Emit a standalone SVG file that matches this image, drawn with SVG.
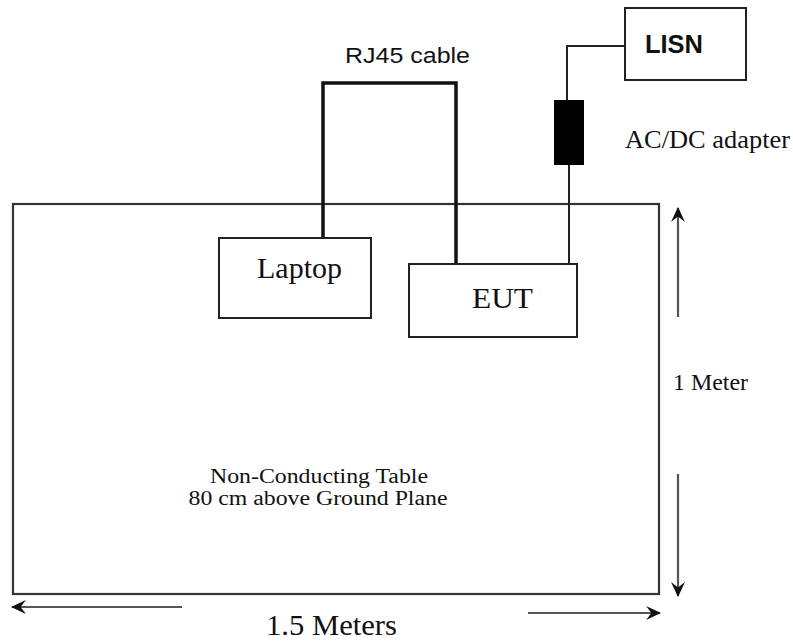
<svg xmlns="http://www.w3.org/2000/svg" width="793" height="644" viewBox="0 0 793 644">
<style>
.box{fill:#fff;stroke:#222;stroke-width:2}
.table{fill:none;stroke:#333;stroke-width:2.2}
.serif{font-family:"Liberation Serif","Times New Roman",serif;fill:#111}
.sans{font-family:"Liberation Sans",Arial,sans-serif;fill:#111}
.thick{fill:none;stroke:#111;stroke-width:3.5}
.thin{fill:none;stroke:#222;stroke-width:2}
.dim{fill:none;stroke:#555;stroke-width:2.2}
</style>
<defs>
<marker id="ah" viewBox="0 0 14 14" refX="13" refY="7" markerWidth="15" markerHeight="15" markerUnits="userSpaceOnUse" orient="auto">
<path d="M0,0.5 L14,7 L0,13.5 L5,7 z" fill="#111"/>
</marker>
</defs>
<rect width="793" height="644" fill="#fff"/>
<g id="table">
<rect class="table" x="13" y="204" width="646" height="390"/>
<text class="serif" x="319" y="483" font-size="20" text-anchor="middle" textLength="218" lengthAdjust="spacingAndGlyphs">Non-Conducting Table</text>
<text class="serif" x="318" y="505" font-size="20" text-anchor="middle" textLength="259" lengthAdjust="spacingAndGlyphs">80 cm above Ground Plane</text>
</g>
<g id="connectors">
<polyline class="thick" points="323,238 323,83 456,83 456,264"/>
<polyline class="thin" points="569,264 569,165"/>
<polyline class="thin" points="567,100 567,46 625,46"/>
</g>
<g id="adapter">
<rect x="554" y="100" width="30" height="65" fill="#000"/>
<text class="serif" x="625" y="148" font-size="26" textLength="165" lengthAdjust="spacingAndGlyphs">AC/DC adapter</text>
</g>
<g id="rj45-label">
<text class="sans" x="345" y="63" font-size="22" textLength="125" lengthAdjust="spacingAndGlyphs">RJ45 cable</text>
</g>
<g id="lisn">
<rect class="box" x="625" y="8" width="121" height="72"/>
<text class="sans" x="645" y="53" font-size="26" font-weight="bold" textLength="58" lengthAdjust="spacingAndGlyphs">LISN</text>
</g>
<g id="laptop">
<rect class="box" x="219" y="238" width="152" height="80"/>
<text class="serif" x="257" y="278" font-size="29" textLength="85" lengthAdjust="spacingAndGlyphs">Laptop</text>
</g>
<g id="eut">
<rect class="box" x="409" y="264" width="168" height="73"/>
<text class="serif" x="472" y="308" font-size="29" textLength="61" lengthAdjust="spacingAndGlyphs">EUT</text>
</g>
<g id="dimensions">
<line class="dim" x1="678" y1="317" x2="678" y2="208" marker-end="url(#ah)"/>
<line class="dim" x1="678" y1="474" x2="678" y2="596" marker-end="url(#ah)"/>
<line class="dim" x1="182" y1="607" x2="12" y2="607" marker-end="url(#ah)"/>
<line class="dim" x1="528" y1="613" x2="660" y2="613" marker-end="url(#ah)"/>
<text class="serif" x="673" y="390" font-size="24" textLength="75" lengthAdjust="spacingAndGlyphs">1 Meter</text>
<text class="serif" x="266" y="635" font-size="30" textLength="131" lengthAdjust="spacingAndGlyphs">1.5 Meters</text>
</g>
</svg>
